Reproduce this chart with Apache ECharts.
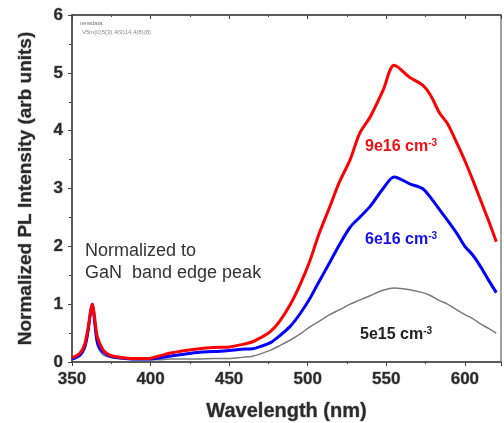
<!DOCTYPE html>
<html>
<head>
<meta charset="utf-8">
<script src="https://cdn.jsdelivr.net/npm/echarts@6/dist/echarts.min.js"></script>
<style>
  html, body { margin: 0; padding: 0; background: #fff; }
  #chart { width: 504px; height: 423px; }
</style>
</head>
<body>
<div id="chart"></div>
<script>
// wavelength (nm)
const wavelength = [350, 355, 358, 360, 362, 363, 364, 366, 368, 370, 374, 378, 384, 390, 398, 405, 412, 420, 431, 440, 450, 458, 465, 470, 476, 482, 489, 495, 501, 507, 514, 520, 527, 533, 540, 548, 555, 565, 573, 578, 584, 589, 595, 600, 605, 610, 615, 620];
// 9e16 cm-3
const red9e16 = [0.07, 0.15, 0.3, 0.55, 0.9, 1.0, 0.85, 0.45, 0.3, 0.2, 0.12, 0.09, 0.07, 0.06, 0.06, 0.1, 0.15, 0.19, 0.23, 0.25, 0.26, 0.3, 0.35, 0.42, 0.52, 0.7, 1.0, 1.33, 1.72, 2.2, 2.68, 3.1, 3.5, 3.95, 4.25, 4.7, 5.13, 4.92, 4.79, 4.62, 4.3, 4.12, 3.78, 3.48, 3.15, 2.8, 2.45, 2.08];
// 6e16 cm-3
const blue6e16 = [0.05, 0.12, 0.25, 0.5, 0.9, 1.0, 0.8, 0.35, 0.22, 0.17, 0.1, 0.08, 0.06, 0.05, 0.05, 0.07, 0.1, 0.13, 0.17, 0.18, 0.2, 0.22, 0.23, 0.27, 0.33, 0.45, 0.62, 0.83, 1.08, 1.38, 1.72, 2.02, 2.33, 2.5, 2.7, 3.0, 3.2, 3.08, 3.0, 2.85, 2.63, 2.45, 2.22, 2.0, 1.85, 1.65, 1.42, 1.2];
// 5e15 cm-3
const gray5e15 = [0.04, 0.1, 0.22, 0.45, 0.85, 0.95, 0.75, 0.3, 0.18, 0.12, 0.08, 0.06, 0.05, 0.04, 0.04, 0.04, 0.05, 0.05, 0.05, 0.06, 0.06, 0.08, 0.1, 0.14, 0.2, 0.28, 0.38, 0.48, 0.6, 0.7, 0.82, 0.9, 1.0, 1.07, 1.15, 1.24, 1.28, 1.25, 1.2, 1.15, 1.06, 1.0, 0.9, 0.82, 0.75, 0.66, 0.58, 0.5];

const xTicks = [350, 400, 450, 500, 550, 600];
const yTicks = [0, 1, 2, 3, 4, 5, 6];

function pairs(ys) {
    return wavelength.map((x, i) => [x, ys[i]]);
}

const chart = echarts.init(document.getElementById('chart'));
const axisColor = '#444';
// bold labels with a soft grey halo like the scanned figure
const labelFont = {
    color: '#2a2a2a',
    fontFamily: 'Liberation Sans, Arial, sans-serif',
    fontWeight: 'bold',
    fontSize: 17,
    textBorderColor: '#bbb',
    textBorderWidth: 1
};

function supLabel(text, color) {
    return {
        text: '{a|' + text + '}{s|-3}',
        rich: {
            a: { fontSize: 16, fontWeight: 'bold', fill: color, fontFamily: 'Liberation Sans, Arial' },
            s: { fontSize: 10, fontWeight: 'bold', fill: color, verticalAlign: 'top', padding: [0, 0, 8, 0], fontFamily: 'Liberation Sans, Arial' }
        }
    };
}

const option = {
    animation: false,
    backgroundColor: '#fff',
    grid: {
        left: 72, right: 3, top: 15, bottom: 61,
        outerBoundsMode: 'none',
        show: true,
        borderColor: axisColor,
        borderWidth: 1
    },
    xAxis: [
        {
            type: 'value',
            min: 350, max: 623, interval: 50,
            name: 'Wavelength (nm)',
            nameLocation: 'middle',
            nameGap: 39,
            nameTextStyle: Object.assign({}, labelFont, { fontSize: 20 }),
            axisLine: { lineStyle: { color: axisColor, width: 1.5 } },
            axisTick: { show: true, length: 4, lineStyle: { color: axisColor } },
            minorTick: { show: true, splitNumber: 2, length: 2, lineStyle: { color: axisColor } },
            axisLabel: Object.assign({}, labelFont, {
                margin: 9,
                formatter: v => xTicks.indexOf(v) >= 0 ? String(v) : ''
            }),
            splitLine: { show: false }
        },
        {
            type: 'value',
            position: 'top',
            min: 350, max: 623, interval: 50,
            axisLine: { lineStyle: { color: axisColor, width: 1.5 } },
            axisTick: { show: true, inside: true, length: 4, lineStyle: { color: axisColor } },
            minorTick: { show: true, splitNumber: 2, length: 2, lineStyle: { color: axisColor } },
            axisLabel: { show: false },
            splitLine: { show: false }
        }
    ],
    yAxis: [
        {
            type: 'value',
            min: 0, max: 6, interval: 1,
            name: 'Normalized PL Intensity (arb units)',
            nameLocation: 'middle',
            nameGap: 37,
            nameTextStyle: Object.assign({}, labelFont, { fontSize: 19 }),
            axisLine: { show: true, lineStyle: { color: axisColor, width: 1.5 } },
            axisTick: { show: true, length: 4, lineStyle: { color: axisColor } },
            minorTick: { show: true, splitNumber: 2, length: 3, lineStyle: { color: axisColor } },
            axisLabel: Object.assign({}, labelFont, {
                margin: 9,
                formatter: v => yTicks.indexOf(v) >= 0 ? String(v) : ''
            }),
            splitLine: { show: false }
        }
    ],
    graphic: [
        { type: 'text', left: 80, top: 20, style: { text: 'newdata', fontSize: 6, fill: '#777', fontFamily: 'Liberation Sans' } },
        { type: 'text', left: 82, top: 29, style: { text: 'V5m(0)5(3),4(9)14,4(8)(8)', fontSize: 6, fill: '#888', fontFamily: 'Liberation Sans' } },
        { type: 'text', left: 85, top: 242, style: { text: 'Normalized to', fontSize: 18, fill: '#333', fontFamily: 'Liberation Sans, Arial' } },
        { type: 'text', left: 85, top: 264, style: { text: 'GaN  band edge peak', fontSize: 18, fill: '#333', fontFamily: 'Liberation Sans, Arial' } },
        { type: 'text', left: 365, top: 138, style: supLabel('9e16 cm', '#f01010') },
        { type: 'text', left: 365, top: 231, style: supLabel('6e16 cm', '#1010f0') },
        { type: 'text', left: 360, top: 326, style: supLabel('5e15 cm', '#222') }
    ],
    series: [
        {
            type: 'line',
            name: '5e15',
            data: pairs(gray5e15),
            showSymbol: false,
            smooth: 0.3,
            lineStyle: { color: '#7a7a7a', width: 1.5 },
            z: 2
        },
        {
            type: 'line',
            name: '6e16',
            data: pairs(blue6e16),
            showSymbol: false,
            smooth: 0.3,
            lineStyle: { color: '#0000ff', width: 3 },
            z: 3
        },
        {
            type: 'line',
            name: '9e16',
            data: pairs(red9e16),
            showSymbol: false,
            smooth: 0.3,
            lineStyle: { color: '#ff0000', width: 3 },
            z: 4
        }
    ]
};

chart.setOption(option);
</script>
</body>
</html>
